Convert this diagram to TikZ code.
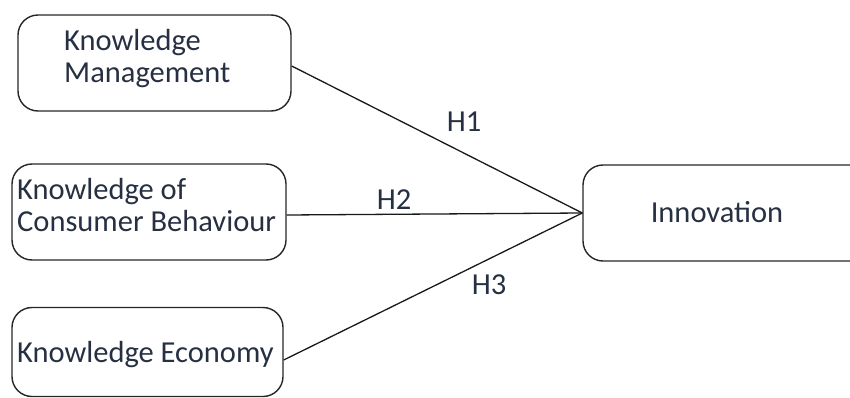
\documentclass[tikz,border=0pt]{standalone}
\usepackage{fontspec}
\setmainfont{Carlito}
\definecolor{txt}{RGB}{38,48,66}
\begin{document}
\begin{tikzpicture}[x=1pt,y=-1pt,
  box/.style={draw=black!85, line width=1.4pt, rounded corners=20pt, inner sep=0pt},
  lbl/.style={text=txt, font=\fontsize{30.5}{32}\selectfont, inner sep=0pt, align=left},
  conn/.style={draw=black!90, line width=1.3pt}]
\useasboundingbox (0,0) rectangle (850,398);
\node[box, minimum width=273pt, minimum height=96pt] (b1) at (154.5,63) {};
\node[box, minimum width=274pt, minimum height=96pt] (b2) at (149,212) {};
\node[box, minimum width=271pt, minimum height=89pt] (b3) at (147.5,352) {};
\node[box, minimum width=290pt, minimum height=96pt] (inn) at (728,213) {};
\node[lbl, anchor=west] (t1) at (64,59) {Knowledge\\Management};
\node[lbl, anchor=west] (t2) at (17,205) {Knowledge of\\Consumer Behaviour};
\node[lbl, anchor=west] (t3) at (17,355) {Knowledge Economy};
\node[lbl] (t4) at (717,212) {Innovation};
\coordinate (e1) at (b1.east |- 0,66);
\coordinate (e2) at (b2.east |- 0,215);
\coordinate (e3) at (b3.east |- 0,360);
\coordinate (m) at (inn.west);
\draw[conn] (e1) -- (m);
\draw[conn] (e2) -- (m);
\draw[conn] (e3) -- (m);
\node[lbl] (h1) at (464,122) {H1};
\node[lbl] (h2) at (394,200) {H2};
\node[lbl] (h3) at (489,285) {H3};
\end{tikzpicture}
\end{document}
